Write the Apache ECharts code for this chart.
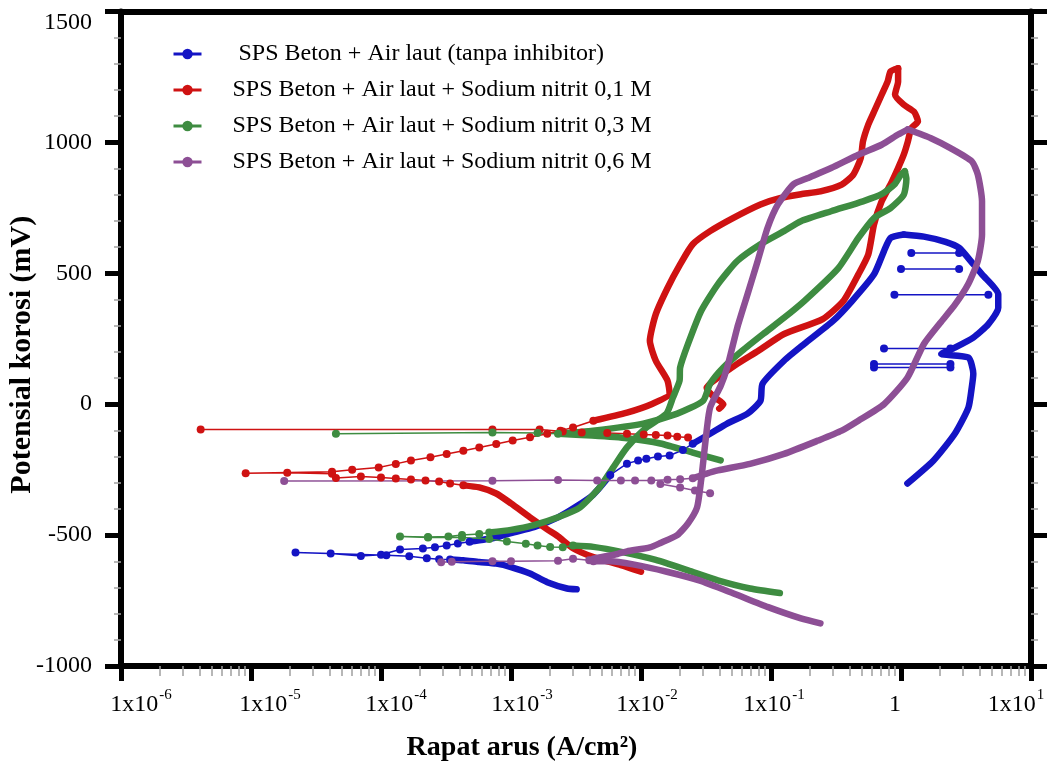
<!DOCTYPE html>
<html>
<head>
<meta charset="utf-8">
<title>Kurva polarisasi SPS Beton</title>
<script src="https://cdn.jsdelivr.net/npm/echarts@6/dist/echarts.min.js"></script>
<style>
html, body { margin: 0; padding: 0; background: #fff; }
#main { width: 1054px; height: 765px; }
</style>
</head>
<body>
<div id="main"></div>
<script>
// nama seri (legend)
var names = [
    'SPS Beton + Air laut (tanpa inhibitor)',
    'SPS Beton + Air laut + Sodium nitrit 0,1 M',
    'SPS Beton + Air laut + Sodium nitrit 0,3 M',
    'SPS Beton + Air laut + Sodium nitrit 0,6 M'
];
var colors = ['#1414c4', '#cf1212', '#3e8c41', '#8d4f95'];

// sumbu
var xTickValues = [1e-6, 1e-5, 1e-4, 1e-3, 1e-2, 1e-1, 1, 10];
var xTickBase = ['1x10', '1x10', '1x10', '1x10', '1x10', '1x10', '1', '1x10'];
var xTickExp = ['-6', '-5', '-4', '-3', '-2', '-1', '', '1'];
var xMinorMultipliers = [2, 3, 4, 5, 6, 7, 8, 9];
var yTickValues = [-1000, -500, 0, 500, 1000, 1500];
// geser label x (px) spt di gambar asli
var xLabelShift = [20, 19, 15, 11, 6, 3, -6, -15];

// data: [rapat arus (A/cm2), potensial (mV)]
// --- tanpa inhibitor (biru)
var blueCathodic = [[3.2e-3,-707],[2.7e-3,-704],[1.9e-3,-680],[1.4e-3,-647],[1.0e-3,-622],[7.7e-4,-609],[5.7e-4,-603],[4.3e-4,-596],[3.4e-4,-593]];
var blueEcorrDots = [[3.4e-4,-593],[2.8e-4,-592],[2.25e-4,-588],[1.65e-4,-581],[1.1e-4,-577],[2.2e-5,-566],[4.1e-5,-570],[7.0e-5,-580],[1.0e-4,-575],[1.4e-4,-555],[2.1e-4,-551],[2.6e-4,-546],[3.2e-4,-540],[3.9e-4,-532],[4.8e-4,-525]];
var blueAnodic = [[4.8e-4,-525],[7.7e-4,-509],[1.0e-3,-492],[1.5e-3,-470],[2.3e-3,-432],[3.2e-3,-390],[4.3e-3,-345],[5.8e-3,-270]];
var blueAnodicDots = [[5.8e-3,-270],[7.8e-3,-227],[9.5e-3,-215],[1.1e-2,-208],[1.35e-2,-200],[1.66e-2,-196],[2.1e-2,-175],[2.5e-2,-151]];
var blueAnodicUpper = [[2.5e-2,-151],[3.4e-2,-113],[4.6e-2,-74],[6.6e-2,-36],[8.3e-2,13],[8.6e-2,78],[0.126,166],[0.18,230],[0.30,318],[0.42,394],[0.62,496],[0.74,585],[0.83,635],[1.05,648]];
var blueReverse = [[1.05,648],[1.5,640],[2.2,620],[2.8,597],[3.6,535],[4.2,496],[5.6,420],[5.6,368],[4.7,306],[3.6,254],[2.6,216],[2.04,192],[3.3,178],[3.6,116],[3.5,63],[3.3,-13],[2.6,-112],[1.78,-215],[1.12,-303]];
var blueSpikes = [
    [[2.8,578],[1.2,578]],
    [[2.8,516],[1.0,516]],
    [[4.7,418],[0.89,418]],
    [[2.4,213],[0.74,213]],
    [[2.4,154],[0.62,154]],
    [[2.4,140],[0.62,140]]
];

// --- nitrit 0,1 M (merah)
var redCathodic = [[1.0e-2,-640],[7.0e-3,-615],[4.3e-3,-584],[3.0e-3,-550],[2.3e-3,-505],[1.9e-3,-478],[1.4e-3,-432],[1.0e-3,-379],[7.7e-4,-341],[5.7e-4,-318],[4.3e-4,-310]];
var redEcorrDots = [[4.3e-4,-310],[3.4e-4,-303],[2.8e-4,-295],[2.2e-4,-291],[1.7e-4,-288],[1.3e-4,-284],[1.0e-4,-280],[7.0e-5,-276],[4.5e-5,-282],[4.2e-5,-266],[1.9e-5,-262],[9.1e-6,-264],[4.2e-5,-258],[6.0e-5,-250],[9.6e-5,-242],[1.3e-4,-228],[1.7e-4,-215],[2.4e-4,-203],[3.2e-4,-190],[4.3e-4,-178],[5.7e-4,-165],[7.7e-4,-152],[1.03e-3,-139],[1.4e-3,-126],[1.9e-3,-113],[2.4e-3,-101],[3.0e-3,-89],[4.3e-3,-63]];
var redAnodic = [[4.3e-3,-63],[7.8e-3,-32],[1.23e-2,2],[1.66e-2,40],[1.6e-2,90],[1.3e-2,166],[1.17e-2,242],[1.3e-2,344],[1.6e-2,444],[2.0e-2,534],[2.5e-2,611],[3.4e-2,661],[5.1e-2,711],[8.3e-2,763],[0.117,787],[0.17,802],[0.24,813],[0.35,839],[0.43,877],[0.49,940],[0.51,1004],[0.56,1068],[0.62,1117],[0.71,1182],[0.79,1233],[0.83,1271],[0.95,1283]];
var redReverse = [[0.95,1283],[0.95,1233],[0.90,1182],[1.05,1144],[1.26,1117],[1.35,1080],[1.20,1054],[1.13,1004],[1.05,953],[0.95,902],[0.83,839],[0.71,775],[0.62,687],[0.56,572],[0.47,496],[0.36,394],[0.25,325],[0.126,268],[0.08,204],[0.055,154],[0.039,101],[0.032,63],[0.036,30],[0.043,0],[0.040,-17]];
var redReverseDots = [[2.3e-2,-127],[1.9e-2,-124],[1.6e-2,-120],[1.3e-2,-118],[1.05e-2,-116],[7.8e-3,-113],[5.5e-3,-110],[3.5e-3,-108],[2.5e-3,-104],[1.66e-3,-97],[7.2e-4,-97],[4.1e-6,-97]];

// --- nitrit 0,3 M (hijau)
var greenCathodic = [[0.117,-721],[0.069,-704],[0.039,-673],[0.023,-635],[0.013,-595],[7.2e-3,-565],[4.3e-3,-545],[3.0e-3,-540]];
var greenEcorrDots = [[3.0e-3,-540],[2.5e-3,-546],[2.0e-3,-545],[1.6e-3,-540],[1.3e-3,-533],[9.3e-4,-524],[6.8e-4,-515],[4.2e-4,-509],[2.3e-4,-509],[1.4e-4,-505],[2.3e-4,-507],[3.3e-4,-505],[4.2e-4,-500],[5.7e-4,-496],[6.8e-4,-490]];
var greenAnodic = [[6.8e-4,-490],[1.0e-3,-480],[1.5e-3,-462],[2.3e-3,-432],[3.4e-3,-394],[4.8e-3,-318],[6.1e-3,-242],[7.8e-3,-165],[1.1e-2,-89],[1.57e-2,-36],[1.76e-2,25],[1.98e-2,90],[2.0e-2,140],[2.3e-2,230],[2.9e-2,356],[3.9e-2,458],[5.5e-2,547],[8.3e-2,611],[0.126,661],[0.17,699],[0.29,737],[0.51,775],[0.71,802],[0.89,839],[1.0,877],[1.07,890]];
var greenReverse = [[1.07,890],[1.10,860],[1.05,800],[0.83,749],[0.62,711],[0.47,635],[0.33,520],[0.18,394],[0.126,330],[0.087,268],[0.06,204],[0.043,140],[0.034,78],[0.030,13],[0.019,-36],[0.0104,-74],[4.3e-3,-101],[2.3e-3,-113]];
var greenReverseDots = [[2.3e-3,-113],[1.6e-3,-110],[7.2e-4,-108],[4.5e-5,-113]];
var greenTail = [[2.3e-3,-113],[4.2e-3,-120],[7.8e-3,-130],[1.41e-2,-150],[2.5e-2,-185],[4.1e-2,-215]];

// --- nitrit 0,6 M (ungu)
var purpleCathodic = [[0.24,-837],[0.17,-818],[0.095,-775],[0.051,-722],[0.028,-673],[0.0158,-640],[0.0087,-612],[0.0058,-600],[0.0043,-600]];
var purpleEcorrDots = [[0.0043,-600],[0.0040,-596],[0.0030,-590],[0.0023,-598],[1.0e-3,-600],[7.2e-4,-600],[3.5e-4,-602],[2.9e-4,-604]];
var purpleAnodic = [[0.0043,-590],[0.0066,-572],[0.0078,-562],[0.0117,-547],[0.0141,-530],[0.019,-500],[0.023,-455],[0.027,-394],[0.029,-291],[0.030,-227],[0.032,-101],[0.034,-13],[0.041,70],[0.046,140],[0.055,292],[0.066,420],[0.079,547],[0.094,673],[0.113,763],[0.149,840],[0.19,863],[0.29,902],[0.47,953],[0.71,991],[0.95,1030],[1.13,1050]];
var purpleReverse = [[1.13,1050],[1.70,1016],[2.4,978],[3.5,928],[3.9,877],[4.2,775],[4.2,648],[3.9,547],[3.3,460],[2.6,380],[2.0,310],[1.5,230],[1.12,101],[0.74,0],[0.47,-63],[0.35,-101],[0.23,-139],[0.126,-190],[0.069,-228],[0.039,-253],[0.032,-265],[0.025,-283]];
var purpleReverseDots = [[0.025,-283],[0.020,-287],[0.016,-289],[0.012,-291],[9.0e-3,-291],[7.0e-3,-291],[4.6e-3,-291],[2.3e-3,-290],[7.2e-4,-292],[1.8e-5,-293]];
var purpleLowDots = [[0.0141,-305],[0.020,-318],[0.026,-330],[0.034,-340]];

var FONT = 'Liberation Serif';
var myChart = echarts.init(document.getElementById('main'));

function curve(i, data) {
    return {
        name: names[i], type: 'line', data: data,
        showSymbol: false, symbol: 'circle', smooth: 0.2,
        lineStyle: { width: 6.5, color: colors[i], cap: 'round', join: 'round' },
        itemStyle: { color: colors[i] },
        silent: true
    };
}
function dotted(i, data) {
    return {
        name: names[i], type: 'line', data: data,
        symbol: 'circle', symbolSize: 8, showSymbol: true,
        lineStyle: { width: 1.5, color: colors[i] },
        itemStyle: { color: colors[i] },
        silent: true
    };
}

var series = [];
// biru
series.push(dotted(0, blueEcorrDots));
series.push(curve(0, blueCathodic));
series.push(curve(0, blueAnodic));
series.push(dotted(0, blueAnodicDots));
series.push(curve(0, blueAnodicUpper));
series.push(curve(0, blueReverse));
blueSpikes.forEach(function(s) { series.push(dotted(0, s)); });
// merah
series.push(dotted(1, redEcorrDots));
series.push(curve(1, redCathodic));
series.push(curve(1, redAnodic));
series.push(curve(1, redReverse));
series.push(dotted(1, redReverseDots));
// hijau
series.push(dotted(2, greenEcorrDots));
series.push(curve(2, greenCathodic));
series.push(curve(2, greenAnodic));
series.push(curve(2, greenReverse));
series.push(dotted(2, greenReverseDots));
series.push(curve(2, greenTail));
// ungu
series.push(dotted(3, purpleEcorrDots));
series.push(curve(3, purpleCathodic));
series.push(curve(3, purpleAnodic));
series.push(curve(3, purpleReverse));
series.push(dotted(3, purpleReverseDots));
series.push(dotted(3, purpleLowDots));

// minor tick sumbu x (dalam ruang log10)
var xMinorTicks = [];
for (var d = -6; d < 1; d++) {
    xMinorMultipliers.forEach(function(m) { xMinorTicks.push(d + Math.log10(m)); });
}

var black = '#000';
var option = {
    animation: false,
    backgroundColor: '#fff',
    grid: { left: 121, right: 23, top: 11.5, bottom: 99, outerBoundsMode: 'none', containLabel: false },
    legend: {
        data: names,
        orient: 'vertical',
        left: 167, top: 37,
        itemWidth: 28, itemHeight: 13, itemGap: 12,
        lineStyle: { width: 3 },
        formatter: function(n) { return n === names[0] ? ' ' + n : n; },
        textStyle: { fontFamily: FONT, fontSize: 24, color: black, padding: [0, 0, 0, 26] }
    },
    xAxis: [
        {
            type: 'log', logBase: 10, min: 1e-6, max: 10,
            position: 'bottom',
            axisLine: { onZero: false, lineStyle: { color: black, width: 6 } },
            axisTick: { length: 15, lineStyle: { color: black, width: 5 } },
            splitLine: { show: false },
            axisLabel: {
                margin: 22,
                formatter: function(v) {
                    var k = xTickValues.findIndex(function(t) { return Math.abs(Math.log10(t) - Math.log10(v)) < 1e-6; });
                    if (k < 0) return '';
                    var s = xLabelShift[k];
                    var pad = s >= 0 ? '{l' + s + '|}' : '';
                    var padR = s < 0 ? '{l' + (-s) + '|}' : '';
                    return pad + '{b|' + xTickBase[k] + '}' + (xTickExp[k] ? '{e|' + xTickExp[k] + '}' : '') + padR;
                },
                rich: (function() {
                    var r = {
                        b: { fontFamily: FONT, fontSize: 24, color: black, lineHeight: 34 },
                        e: { fontFamily: FONT, fontSize: 15, color: black, lineHeight: 14, verticalAlign: 'top', padding: [0, 0, 0, 1] }
                    };
                    xLabelShift.forEach(function(s) { r['l' + Math.abs(s)] = { width: 2 * Math.abs(s), lineHeight: 34 }; });
                    return r;
                })()
            },
            name: 'Rapat arus (A/cm²)',
            nameLocation: 'middle', nameGap: 68, nameMoveOverlap: false,
            nameTextStyle: { fontFamily: FONT, fontSize: 28, fontWeight: 'bold', color: black, padding: [0, 108, 0, 0] }
        },
        {
            type: 'value', min: -6, max: 1, position: 'bottom',
            axisLine: { show: false, onZero: false },
            axisTick: { show: true, customValues: xMinorTicks, length: 10, lineStyle: { color: '#a0a0a0', width: 1.5 } },
            axisLabel: { show: false },
            splitLine: { show: false }
        },
        {
            type: 'value', min: -6, max: 1, position: 'top',
            axisLine: { onZero: false, lineStyle: { color: black, width: 6 } },
            axisTick: { show: false },
            axisLabel: { show: false },
            splitLine: { show: false }
        }
    ],
    yAxis: [
        {
            type: 'value', min: yTickValues[0], max: yTickValues[yTickValues.length - 1], interval: 500,
            position: 'left',
            axisLine: { onZero: false, lineStyle: { color: black, width: 6 } },
            axisTick: { length: 16, lineStyle: { color: black, width: 5 } },
            minorTick: { show: true, splitNumber: 5, length: 7, lineStyle: { color: '#a0a0a0', width: 1.5 } },
            splitLine: { show: false },
            axisLabel: {
                margin: 29, fontFamily: FONT, fontSize: 24, color: black,
                formatter: function(v) { return v === 1500 ? '{t|1500}' : String(v); },
                rich: { t: { fontFamily: FONT, fontSize: 24, color: black, padding: [22, 0, 0, 0] } }
            },
            name: 'Potensial korosi (mV)',
            nameLocation: 'middle', nameGap: 84, nameMoveOverlap: false,
            nameTextStyle: { fontFamily: FONT, fontSize: 30, fontWeight: 'bold', color: black, padding: [0, 32, 0, 0] }
        },
        {
            type: 'value', min: yTickValues[0], max: yTickValues[yTickValues.length - 1], interval: 500,
            position: 'right',
            axisLine: { onZero: false, lineStyle: { color: black, width: 6 } },
            axisTick: { length: 16, lineStyle: { color: black, width: 5 } },
            minorTick: { show: true, splitNumber: 5, length: 7, lineStyle: { color: '#a0a0a0', width: 1.5 } },
            splitLine: { show: false },
            axisLabel: { show: false }
        }
    ],
    series: series
};
myChart.setOption(option);
</script>
</body>
</html>
